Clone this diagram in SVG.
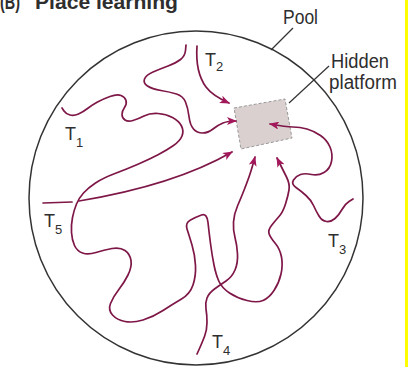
<svg xmlns="http://www.w3.org/2000/svg" width="408" height="367" viewBox="0 0 408 367">
<style>
.path{fill:none;stroke:#7e1747;stroke-width:1.7;stroke-linecap:round;stroke-linejoin:round}
.lbl{font-family:"Liberation Sans",Arial,sans-serif;fill:#2e2e2e}
.t{font-size:18px}
.s{font-size:13px}
.big{font-size:20px}
.lead{stroke:#333;stroke-width:1.2;fill:none}
</style>
<defs>
<marker id="ah" viewBox="0 0 10 8" refX="9" refY="4" markerWidth="10" markerHeight="8" markerUnits="userSpaceOnUse" orient="auto">
<path d="M0,0 L10,4 L0,8 L2.5,4 z" fill="#a3185a"/>
</marker>
</defs>
<rect x="0" y="0" width="408" height="367" fill="#ffffff"/>
<rect x="405" y="0" width="3" height="367" fill="#ffff00"/>
<g id="title">
<text class="lbl" x="0" y="9" font-size="20" font-weight="bold" fill="#333" textLength="20" lengthAdjust="spacingAndGlyphs">(B)</text>
<text class="lbl" x="35" y="9" font-size="20" font-weight="bold" fill="#333" textLength="143" lengthAdjust="spacingAndGlyphs">Place learning</text>
</g>
<g id="pool">
<circle cx="196" cy="198" r="167" fill="none" stroke="#333" stroke-width="1.5"/>
<line class="lead" x1="271" y1="50" x2="293" y2="28"/>
<text class="lbl big" x="283" y="24" textLength="35" lengthAdjust="spacingAndGlyphs">Pool</text>
</g>
<g id="platform">
<polygon points="234,108 285,99 292,138 241,149" fill="#d9d0cf" stroke="#9a9a9a" stroke-width="1" stroke-dasharray="3,2"/>
<line class="lead" x1="289" y1="103" x2="329" y2="66"/>
<text class="lbl big" x="331" y="68" textLength="58" lengthAdjust="spacingAndGlyphs">Hidden</text>
<text class="lbl big" x="329" y="89" textLength="68" lengthAdjust="spacingAndGlyphs">platform</text>
</g>
<g id="labels">
<text class="lbl t" x="65" y="140">T<tspan class="s" x="76" y="147">1</tspan></text>
<text class="lbl t" x="205" y="66">T<tspan class="s" x="216" y="71">2</tspan></text>
<text class="lbl t" x="328" y="247">T<tspan class="s" x="339" y="254">3</tspan></text>
<text class="lbl t" x="212" y="348">T<tspan class="s" x="223" y="355">4</tspan></text>
<text class="lbl t" x="44" y="227">T<tspan class="s" x="55" y="234">5</tspan></text>
</g>
<g id="connectors">
<path id="p-t1" class="path" marker-end="url(#ah)" d="M62,108 L64,111 Q66,114 70,115 Q74,116 78.5,114 Q83,112 87.5,108.5 Q92,105 97.5,102 Q103,99 110,96.5 Q117,94 121,95.5 Q125,97 126,100.5 Q127,104 124.5,107.5 Q122,111 122,114.5 Q122,118 125,120 Q128,122 133,120.5 Q138,119 144,116 Q150,113 158,113.5 Q166,114 172.5,117.5 Q179,121 181.5,126 Q184,131 182,136 Q180,141 173.5,145.5 Q167,150 158.5,154.5 Q150,159 138.5,164 Q127,169 115,173.5 Q103,178 95.5,183 Q88,188 83.5,193 Q79,198 76.5,204 Q74,210 72.5,217.5 Q71,225 71.5,232.5 Q72,240 74.5,245.5 Q77,251 82.5,253 Q88,255 96,252.5 Q104,250 112,248.5 Q120,247 125,250.5 Q130,254 131,260.5 Q132,267 128,275 Q124,283 118.5,290 Q113,297 110.5,303.5 Q108,310 112.5,315 Q117,320 125,321.5 Q133,323 143,320 Q153,317 163,310.5 Q173,304 181.5,299 Q190,294 193,285 Q196,276 195.5,265.5 Q195,255 192,245 Q189,235 187,229 Q185,223 190.5,220 Q196,217 201.5,215 Q207,213 208,222.5 Q209,232 210.5,243.5 Q212,255 214,265 Q216,275 219,281.5 Q222,288 229.5,293 Q237,298 247,300.5 Q257,303 263,300.5 Q269,298 274,290.5 Q279,283 281,274 Q283,265 281.5,257 Q280,249 275,243 Q270,237 269,233.5 Q268,230 271.5,225.5 Q275,221 279,216.5 Q283,212 285.5,204 Q288,196 289,190 Q290,184 286.5,177 Q283,170 277,158"/>
<path id="p-t2" class="path" marker-end="url(#ah)" d="M186,45 L185.5,50.5 Q185,56 180.5,59.5 Q176,63 168,66 Q160,69 153,72 Q146,75 144.5,79 Q143,83 147.5,86 Q152,89 161,90.5 Q170,92 176.5,94 Q183,96 185.5,102 Q188,108 189,116.5 Q190,125 193.5,129 Q197,133 202.5,133 Q208,133 213,129 Q218,125 223,123 Q228,121 236,121"/>
<path id="p-top" class="path" marker-end="url(#ah)" d="M197,46 C196,60 198,76 206,87 C212,95 220,99 229,103"/>
<path id="p-t3" class="path" marker-end="url(#ah)" d="M353,199 L349,201.5 Q345,204 342,209.5 Q339,215 335,218.5 Q331,222 326.5,221.5 Q322,221 319,216 Q316,211 313.5,205.5 Q311,200 306,195.5 Q301,191 296,187.5 Q291,184 293.5,180 Q296,176 300.5,174.5 Q305,173 311.5,174.5 Q318,176 324,172.5 Q330,169 331.5,161.5 Q333,154 330,147 Q327,140 320.5,135.5 Q314,131 307,129 Q300,127 293,127 Q286,127 270,124"/>
<path id="p-t4" class="path" marker-end="url(#ah)" d="M197,354 L199.5,348.5 Q202,343 204.5,336.5 Q207,330 207,322.5 Q207,315 206,309 Q205,303 207,298 Q209,293 214.5,289 Q220,285 226,281 Q232,277 235,270 Q238,263 237.5,254 Q237,245 235,237.5 Q233,230 233.5,222 Q234,214 237.5,206 Q241,198 244.5,189 Q248,180 250,174 Q252,168 255,157"/>
<path id="p-t5" class="path" marker-end="url(#ah)" d="M43,203 L72,202 M79,201 C115,195 180,182 232,152"/>
</g>
</svg>
